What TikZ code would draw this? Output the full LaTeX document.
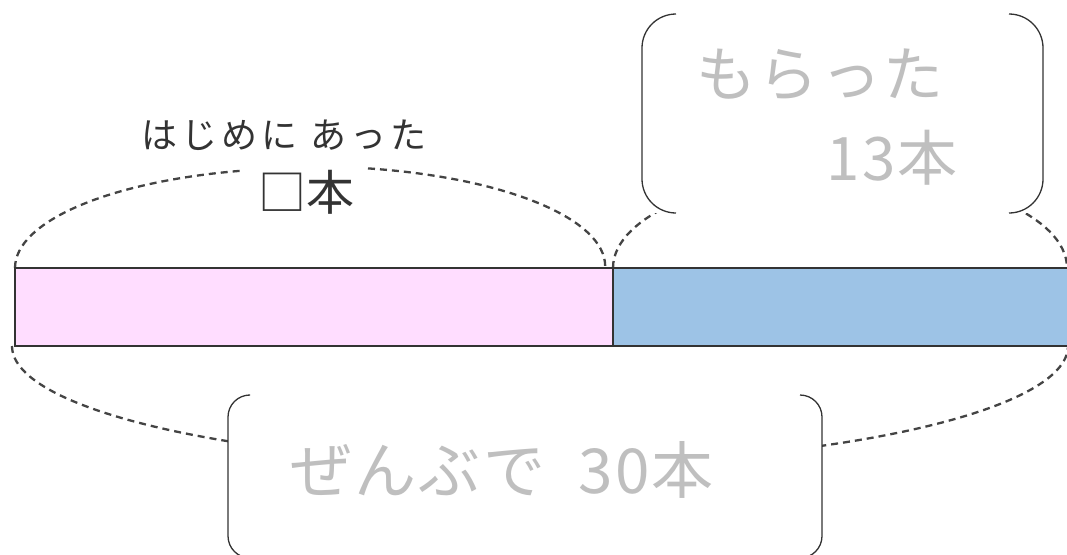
\documentclass[tikz,border=0pt]{standalone}
\usepackage{fontspec}
\newfontfamily\jp{Noto Sans CJK JP}
\newfontfamily\jpwide[LetterSpace=12]{Noto Sans CJK JP}
\newfontfamily\jpmid[LetterSpace=4]{Noto Sans CJK JP}
\definecolor{pinkfill}{HTML}{FFDDFF}
\definecolor{bluefill}{HTML}{9DC3E6}
\definecolor{edge}{HTML}{333333}
\definecolor{dash}{HTML}{444444}
\definecolor{ghost}{HTML}{BFBFBF}
\begin{document}
\begin{tikzpicture}[x=1pt,y=1pt,
  barpart/.style={draw=edge,line width=2.6pt},
  brace/.style={draw=dash,line width=2.3pt,dash pattern=on 7pt off 5pt},
  bracket/.style={draw=edge,line width=1.3pt,rounded corners=#1},
  darktext/.style={text=edge,inner sep=0pt,font=\jp},
  ghosttext/.style={text=ghost,inner sep=0pt,font=\jpmid\fontsize{60}{66}\selectfont}]
\useasboundingbox (0,0) rectangle (1067,-554);
\clip (0,0) rectangle (1067,-554);
% coordinates
\coordinate (L) at (15,-268);
\coordinate (M) at (613,-268);
\coordinate (R) at (1070,-346);
% top-left brace (with gap for the label)
\draw[brace] (L) arc[start angle=180,end angle=103.1,x radius=295,y radius=100];
\draw[brace] (368,-168.4) arc[start angle=78.7,end angle=0,x radius=295,y radius=100];
% top-right brace
\draw[brace] (M) arc[start angle=180,end angle=0,x radius=227,y radius=95];
% bottom brace
\draw[brace] (12,-346) arc[start angle=180,end angle=360,x radius=528,y radius=118];
% boxes (white interiors hide the braces)
\fill[white] (642,-14) rectangle (1043,-213);
\fill[white] (228,-395) rectangle (822,-560);
\draw[bracket=34] (676,-14) -- (642,-14) -- (642,-213) -- (676,-213);
\draw[bracket=34] (1010,-14) -- (1043,-14) -- (1043,-213) -- (1010,-213);
\draw[bracket=22] (248,-395) -- (228,-395) -- (228,-558) -- (248,-558);
\draw[bracket=22] (800,-395) -- (822,-395) -- (822,-558) -- (800,-558);
% bar
\path[barpart,fill=pinkfill] (L) rectangle (613,-346);
\path[barpart,fill=bluefill] (M) rectangle (R);
% texts
\node[darktext,font=\jpwide\fontsize{36}{40}\selectfont] (t1) at (284,-135) {はじめに あった};
\node[darktext,font=\jp\fontsize{48}{54}\selectfont] (t2) at (306,-192) {□本};
\node[ghosttext] (t3) at (820,-75) {もらった};
\node[ghosttext] (t4) at (892,-158) {13本};
\node[ghosttext,font=\jpmid\fontsize{62}{66}\selectfont] (t5) at (502,-470) {ぜんぶで\ \ 30本};
\end{tikzpicture}
\end{document}
